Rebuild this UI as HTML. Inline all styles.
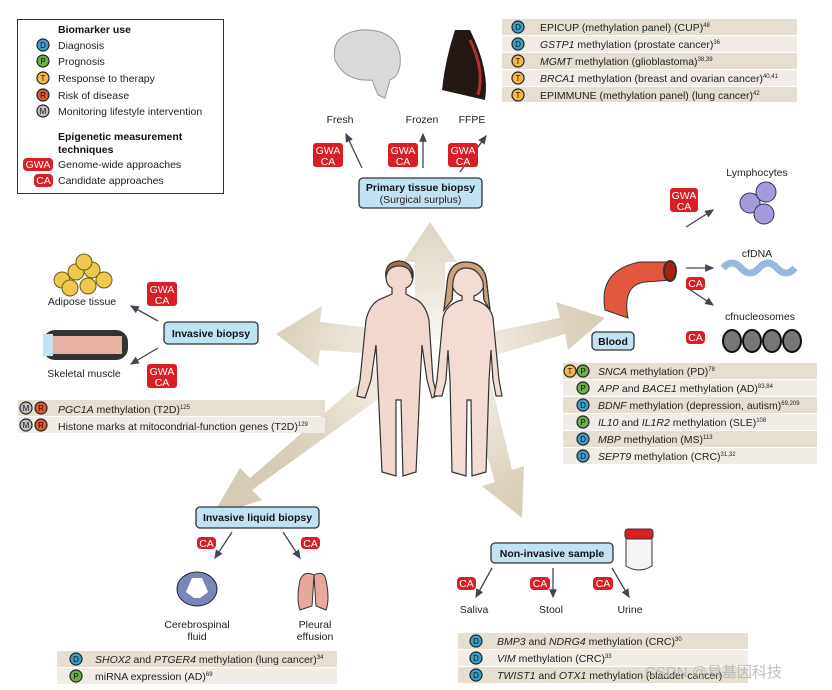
<!DOCTYPE html>
<html><head><meta charset="utf-8"><style>
body{margin:0;background:#fff;}
svg{display:block;font-family:"Liberation Sans","Noto Sans CJK SC",sans-serif;}
.t{font-size:10.5px;fill:#222}
.b{font-size:10.5px;font-weight:bold;fill:#111}
.w{font-size:10.5px;fill:#fff;text-anchor:middle}
.bl{fill:#bfe3f2;stroke:#333;stroke-width:1.3}
.ar{stroke:#445;stroke-width:1.3;fill:none;marker-end:url(#ah)}
.r1{fill:#e6ded1}.r2{fill:#f1ede6}
.bd{font-size:8px;text-anchor:middle;fill:#111}
</style></head><body>
<svg width="832" height="690" viewBox="0 0 832 690">
<defs>
<marker id="ah" markerWidth="8" markerHeight="8" refX="6" refY="3" orient="auto"><path d="M0,0 L7,3 L0,6 Z" fill="#445"/></marker>
<radialGradient id="bg" cx="430" cy="360" r="190" gradientUnits="userSpaceOnUse"><stop offset="0" stop-color="#fff"/><stop offset="0.35" stop-color="#efe9de"/><stop offset="0.75" stop-color="#dcd2bf"/><stop offset="1" stop-color="#d6cbb6"/></radialGradient>
</defs>

<!-- big arrows -->
<g fill="url(#bg)">
<path d="M415,340 L415,262 L403,262 L430,222 L457,262 L445,262 L445,340Z"/>
<path d="M385,355 L320,350 L318,366 L276,334 L322,306 L320,322 L388,330Z"/>
<path d="M475,335 L560,318 L556,302 L605,318 L568,350 L565,334 L480,360Z"/>
<path d="M380,365 L250,478 L240,468 L212,516 L262,500 L252,490 L398,385Z"/>
<path d="M465,385 L495,482 L482,486 L522,518 L524,466 L512,470 L490,378Z"/>
</g>

<!-- figures -->
<g stroke="#333" stroke-width="1.2">
<path d="M383,298 Q370,302 366,320 L360,380 L357,396 L365,398 L371,380 L376,345 L378,385 L382,472 L396,476 L396,400 L401,400 L403,476 L416,472 L420,385 L422,345 L427,380 L432,398 L437,396 L433,380 L429,320 Q425,302 413,298 L406,294 L406,288 Q414,285 413,272 Q410,262 399,262 Q388,262 386,272 Q385,285 392,288 L392,294Z" fill="#f0d8cf"/>
<path d="M386,278 Q384,262 399,261 Q414,262 412,278 Q411,266 399,266 Q387,266 386,278Z" fill="#a0704a"/>
<path d="M466,262 Q448,262 447,285 L444,310 L452,300 L453,288 Q456,294 462,296 L462,300 Q446,304 443,318 L437,380 L434,396 L442,396 L446,380 L448,350 L450,380 L452,472 L466,476 L467,400 L471,400 L472,476 L486,472 L489,380 L491,350 L493,380 L496,396 L502,396 L499,380 L493,318 Q490,304 474,300 L474,296 Q480,294 483,288 L484,300 L490,310 L487,285 Q486,262 466,262Z" fill="#f2dcd3"/>
<path d="M447,285 Q448,262 466,262 Q486,262 487,285 L490,310 L484,300 L483,282 Q478,268 466,268 Q455,268 453,282 L452,300 L444,310Z" fill="#c9a27e"/>
</g>

<!-- legend -->
<rect x="17.5" y="19.5" width="206" height="174" fill="#fff" stroke="#333"/>
<text x="58" y="33" class="b">Biomarker use</text>
<g class="t">
<text x="58" y="49">Diagnosis</text><text x="58" y="65">Prognosis</text><text x="58" y="82">Response to therapy</text><text x="58" y="99">Risk of disease</text><text x="58" y="115">Monitoring lifestyle intervention</text>
<text x="58" y="168">Genome-wide approaches</text><text x="58" y="184">Candidate approaches</text></g>
<text x="58" y="140" class="b">Epigenetic measurement</text><text x="58" y="153" class="b">techniques</text>
<g stroke="#222" stroke-width="1.2">
<circle cx="43" cy="45" r="6" fill="#3aa0c8"/><circle cx="43" cy="61" r="6" fill="#6bb04a"/><circle cx="43" cy="78" r="6" fill="#f3b845"/><circle cx="43" cy="95" r="6" fill="#e05a32"/><circle cx="43" cy="111" r="6" fill="#c0c0c0"/></g>
<g class="bd"><text x="43" y="48">D</text><text x="43" y="64">P</text><text x="43" y="81">T</text><text x="43" y="98">R</text><text x="43" y="114">M</text></g>
<rect x="23" y="158" width="30" height="13" rx="4" fill="#d81f26"/><text x="38" y="168" class="w">GWA</text>
<rect x="34" y="174" width="19" height="13" rx="4" fill="#d81f26"/><text x="43.5" y="184" class="w">CA</text>

<!-- top table -->
<rect x="502" y="19" width="295" height="16" class="r1"/><rect x="502" y="36" width="295" height="16" class="r2"/><rect x="502" y="53" width="295" height="16" class="r1"/><rect x="502" y="70" width="295" height="16" class="r2"/><rect x="502" y="87" width="295" height="15" class="r1"/>
<g stroke="#222" stroke-width="1.2"><circle cx="518" cy="27" r="6" fill="#3aa0c8"/><circle cx="518" cy="44" r="6" fill="#3aa0c8"/><circle cx="518" cy="61" r="6" fill="#f3b845"/><circle cx="518" cy="78" r="6" fill="#f3b845"/><circle cx="518" cy="95" r="6" fill="#f3b845"/></g>
<g class="bd"><text x="518" y="30">D</text><text x="518" y="47">D</text><text x="518" y="64">T</text><text x="518" y="81">T</text><text x="518" y="98">T</text></g>
<g class="t"><text x="540" y="31">EPICUP (methylation panel) (CUP)<tspan font-size="6" dy="-4">48</tspan></text>
<text x="540" y="48"><tspan font-style="italic">GSTP1</tspan> methylation (prostate cancer)<tspan font-size="6" dy="-4">36</tspan></text>
<text x="540" y="65"><tspan font-style="italic">MGMT</tspan> methylation (glioblastoma)<tspan font-size="6" dy="-4">38,39</tspan></text>
<text x="540" y="82"><tspan font-style="italic">BRCA1</tspan> methylation (breast and ovarian cancer)<tspan font-size="6" dy="-4">40,41</tspan></text>
<text x="540" y="99">EPIMMUNE (methylation panel) (lung cancer)<tspan font-size="6" dy="-4">42</tspan></text></g>

<!-- brain & breast -->
<path d="M335,60 Q330,35 360,30 Q395,28 400,55 Q402,75 390,80 L385,98 L378,95 L372,80 Q345,82 335,60Z" fill="#d9d9d9" stroke="#999"/>
<path d="M455,30 Q445,60 442,90 L485,100 Q490,70 470,30Z" fill="#231814"/>
<path d="M470,40 Q485,70 478,95" stroke="#a33" stroke-width="3" fill="none"/>
<g class="t" text-anchor="middle"><text x="340" y="123">Fresh</text><text x="422" y="123">Frozen</text><text x="472" y="123">FFPE</text></g>
<line x1="362" y1="168" x2="346" y2="134" class="ar"/><line x1="423" y1="168" x2="423" y2="134" class="ar"/><line x1="460" y1="172" x2="486" y2="136" class="ar"/>
<g><rect x="313" y="143" width="30" height="24" rx="3" fill="#d81f26"/><rect x="388" y="143" width="30" height="24" rx="3" fill="#d81f26"/><rect x="448" y="143" width="30" height="24" rx="3" fill="#d81f26"/></g>
<g class="w"><text x="328" y="154">GWA</text><text x="328" y="165">CA</text><text x="403" y="154">GWA</text><text x="403" y="165">CA</text><text x="463" y="154">GWA</text><text x="463" y="165">CA</text></g>
<rect x="359" y="178" width="123" height="30" rx="4" class="bl"/>
<text x="420.5" y="191" class="b" text-anchor="middle">Primary tissue biopsy</text><text x="420.5" y="203" class="t" text-anchor="middle">(Surgical surplus)</text>

<!-- blood -->
<path d="M605,310 Q598,270 640,262 L668,262 L672,280 L645,282 Q622,285 628,318Z" fill="#e3573e" stroke="#333"/>
<ellipse cx="670" cy="271" rx="6" ry="10" fill="#a21" stroke="#333" stroke-width="2"/>
<rect x="592" y="332" width="42" height="18" rx="4" class="bl"/><text x="613" y="345" class="b" text-anchor="middle">Blood</text>
<text x="757" y="176" class="t" text-anchor="middle">Lymphocytes</text><text x="757" y="257" class="t" text-anchor="middle">cfDNA</text><text x="760" y="320" class="t" text-anchor="middle">cfnucleosomes</text>
<g fill="#a49bdc" stroke="#335"><circle cx="750" cy="203" r="10"/><circle cx="766" cy="192" r="10"/><circle cx="764" cy="214" r="10"/></g>
<path d="M723,268 q9,-10 18,0 t18,0 t18,0 t18,0" stroke="#9ab8dd" stroke-width="7" fill="none"/>
<g stroke="#111" stroke-width="2" fill="#777"><ellipse cx="732" cy="341" rx="9" ry="11"/><ellipse cx="752" cy="341" rx="9" ry="11"/><ellipse cx="772" cy="341" rx="9" ry="11"/><ellipse cx="792" cy="341" rx="9" ry="11"/></g>
<line x1="686" y1="227" x2="713" y2="210" class="ar"/><line x1="686" y1="268" x2="713" y2="268" class="ar"/><line x1="686" y1="287" x2="713" y2="305" class="ar"/>
<rect x="670" y="188" width="28" height="24" rx="3" fill="#d81f26"/><text x="684" y="199" class="w">GWA</text><text x="684" y="210" class="w">CA</text>
<rect x="686" y="277" width="19" height="13" rx="4" fill="#d81f26"/><text x="695.5" y="287" class="w">CA</text>
<rect x="686" y="331" width="19" height="13" rx="4" fill="#d81f26"/><text x="695.5" y="341" class="w">CA</text>
<rect x="563" y="363" width="254" height="16" class="r1"/><rect x="563" y="380" width="254" height="16" class="r2"/><rect x="563" y="397" width="254" height="16" class="r1"/><rect x="563" y="414" width="254" height="16" class="r2"/><rect x="563" y="431" width="254" height="16" class="r1"/><rect x="563" y="448" width="254" height="16" class="r2"/>
<g stroke="#222" stroke-width="1.2"><circle cx="570" cy="371" r="6" fill="#f3b845"/><circle cx="583" cy="371" r="6" fill="#6bb04a"/><circle cx="583" cy="388" r="6" fill="#6bb04a"/><circle cx="583" cy="405" r="6" fill="#3aa0c8"/><circle cx="583" cy="422" r="6" fill="#6bb04a"/><circle cx="583" cy="439" r="6" fill="#3aa0c8"/><circle cx="583" cy="456" r="6" fill="#3aa0c8"/></g>
<g class="bd"><text x="570" y="374">T</text><text x="583" y="374">P</text><text x="583" y="391">P</text><text x="583" y="408">D</text><text x="583" y="425">P</text><text x="583" y="442">D</text><text x="583" y="459">D</text></g>
<g class="t"><text x="598" y="375"><tspan font-style="italic">SNCA</tspan> methylation (PD)<tspan font-size="6" dy="-4">78</tspan></text>
<text x="598" y="392"><tspan font-style="italic">APP</tspan> and <tspan font-style="italic">BACE1</tspan> methylation (AD)<tspan font-size="6" dy="-4">83,84</tspan></text>
<text x="598" y="409"><tspan font-style="italic">BDNF</tspan> methylation (depression, autism)<tspan font-size="6" dy="-4">69,209</tspan></text>
<text x="598" y="426"><tspan font-style="italic">IL10</tspan> and <tspan font-style="italic">IL1R2</tspan> methylation (SLE)<tspan font-size="6" dy="-4">108</tspan></text>
<text x="598" y="443"><tspan font-style="italic">MBP</tspan> methylation (MS)<tspan font-size="6" dy="-4">113</tspan></text>
<text x="598" y="460"><tspan font-style="italic">SEPT9</tspan> methylation (CRC)<tspan font-size="6" dy="-4">31,32</tspan></text></g>

<!-- left -->
<g fill="#eec94c" stroke="#6a5a1a"><circle cx="62" cy="280" r="8"/><circle cx="76" cy="272" r="8"/><circle cx="92" cy="270" r="8"/><circle cx="104" cy="280" r="8"/><circle cx="70" cy="288" r="8"/><circle cx="88" cy="286" r="8"/><circle cx="84" cy="262" r="8"/></g>
<rect x="43" y="330" width="85" height="30" rx="12" fill="#333"/><rect x="50" y="336" width="72" height="18" fill="#e8b0a0"/><rect x="43" y="334" width="10" height="22" fill="#bfe3f2"/>
<text x="82" y="305" class="t" text-anchor="middle">Adipose tissue</text><text x="84" y="377" class="t" text-anchor="middle">Skeletal muscle</text>
<line x1="158" y1="321" x2="131" y2="306" class="ar"/><line x1="158" y1="348" x2="131" y2="364" class="ar"/>
<rect x="147" y="282" width="30" height="24" rx="3" fill="#d81f26"/><text x="162" y="293" class="w">GWA</text><text x="162" y="304" class="w">CA</text>
<rect x="147" y="364" width="30" height="24" rx="3" fill="#d81f26"/><text x="162" y="375" class="w">GWA</text><text x="162" y="386" class="w">CA</text>
<rect x="164" y="322" width="94" height="22" rx="4" class="bl"/><text x="211" y="337" class="b" text-anchor="middle">Invasive biopsy</text>
<rect x="18" y="400" width="307" height="16" class="r1"/><rect x="18" y="417" width="307" height="16" class="r2"/>
<g stroke="#222" stroke-width="1.2"><circle cx="26" cy="408" r="6" fill="#c0c0c0"/><circle cx="41" cy="408" r="6" fill="#e05a32"/><circle cx="26" cy="425" r="6" fill="#c0c0c0"/><circle cx="41" cy="425" r="6" fill="#e05a32"/></g>
<g class="bd"><text x="26" y="411">M</text><text x="41" y="411">R</text><text x="26" y="428">M</text><text x="41" y="428">R</text></g>
<g class="t"><text x="58" y="413"><tspan font-style="italic">PGC1A</tspan> methylation (T2D)<tspan font-size="6" dy="-4">125</tspan></text>
<text x="58" y="430">Histone marks at mitocondrial-function genes (T2D)<tspan font-size="6" dy="-4">129</tspan></text></g>

<!-- liquid biopsy -->
<rect x="196" y="507" width="123" height="21" rx="4" class="bl"/><text x="257.5" y="521" class="b" text-anchor="middle">Invasive liquid biopsy</text>
<line x1="232" y1="532" x2="215" y2="558" class="ar"/><line x1="283" y1="532" x2="300" y2="558" class="ar"/>
<rect x="197" y="537" width="19" height="12" rx="4" fill="#d81f26"/><text x="206.5" y="547" class="w">CA</text>
<rect x="301" y="537" width="19" height="12" rx="4" fill="#d81f26"/><text x="310.5" y="547" class="w">CA</text>
<ellipse cx="197" cy="589" rx="20" ry="17" fill="#7b86b8" stroke="#223"/><path d="M192,578 L186,592 L194,598 L200,598 L208,592 L202,578Z" fill="#fff"/>
<path d="M300,580 Q296,600 300,610 L312,606 L314,575 Q304,570 300,580Z M326,580 Q330,600 326,610 L316,606 L314,575 Q324,570 326,580Z" fill="#e8a8a0" stroke="#333"/>
<g class="t" text-anchor="middle"><text x="197" y="628">Cerebrospinal</text><text x="197" y="640">fluid</text><text x="315" y="628">Pleural</text><text x="315" y="640">effusion</text></g>
<rect x="57" y="651" width="280" height="16" class="r1"/><rect x="57" y="668" width="280" height="16" class="r2"/>
<g stroke="#222" stroke-width="1.2"><circle cx="76" cy="659" r="6" fill="#3aa0c8"/><circle cx="76" cy="676" r="6" fill="#6bb04a"/></g>
<g class="bd"><text x="76" y="662">D</text><text x="76" y="679">P</text></g>
<g class="t"><text x="95" y="663"><tspan font-style="italic">SHOX2</tspan> and <tspan font-style="italic">PTGER4</tspan> methylation (lung cancer)<tspan font-size="6" dy="-4">34</tspan></text>
<text x="95" y="680">miRNA expression (AD)<tspan font-size="6" dy="-4">69</tspan></text></g>

<!-- non-invasive -->
<rect x="491" y="543" width="122" height="20" rx="4" class="bl"/><text x="552" y="557" class="b" text-anchor="middle">Non-invasive sample</text>
<path d="M626,538 L626,566 Q639,574 652,566 L652,538Z" fill="#f4f4f4" stroke="#333"/><rect x="625" y="529" width="28" height="10" rx="3" fill="#d81f26" stroke="#333"/>
<line x1="492" y1="568" x2="476" y2="597" class="ar"/><line x1="553" y1="568" x2="553" y2="597" class="ar"/><line x1="612" y1="568" x2="629" y2="597" class="ar"/>
<rect x="457" y="577" width="19" height="13" rx="4" fill="#d81f26"/><text x="466.5" y="587" class="w">CA</text>
<rect x="530" y="577" width="20" height="13" rx="4" fill="#d81f26"/><text x="540" y="587" class="w">CA</text>
<rect x="593" y="577" width="20" height="13" rx="4" fill="#d81f26"/><text x="603" y="587" class="w">CA</text>
<g class="t" text-anchor="middle"><text x="474" y="613">Saliva</text><text x="551" y="613">Stool</text><text x="630" y="613">Urine</text></g>
<rect x="458" y="633" width="290" height="16" class="r1"/><rect x="458" y="650" width="290" height="16" class="r2"/><rect x="458" y="667" width="290" height="16" class="r1"/>
<g stroke="#222" stroke-width="1.2"><circle cx="476" cy="641" r="6" fill="#3aa0c8"/><circle cx="476" cy="658" r="6" fill="#3aa0c8"/><circle cx="476" cy="675" r="6" fill="#3aa0c8"/></g>
<g class="bd"><text x="476" y="644">D</text><text x="476" y="661">D</text><text x="476" y="678">D</text></g>
<g class="t"><text x="497" y="645"><tspan font-style="italic">BMP3</tspan> and <tspan font-style="italic">NDRG4</tspan> methylation (CRC)<tspan font-size="6" dy="-4">30</tspan></text>
<text x="497" y="662"><tspan font-style="italic">VIM</tspan> methylation (CRC)<tspan font-size="6" dy="-4">33</tspan></text>
<text x="497" y="679"><tspan font-style="italic">TWIST1</tspan> and <tspan font-style="italic">OTX1</tspan> methylation (bladder cancer)</text></g>
<text x="645" y="677" font-size="15" fill="#b4b4b4" fill-opacity="0.85">CSDN @易基因科技</text>
</svg>
</body></html>
